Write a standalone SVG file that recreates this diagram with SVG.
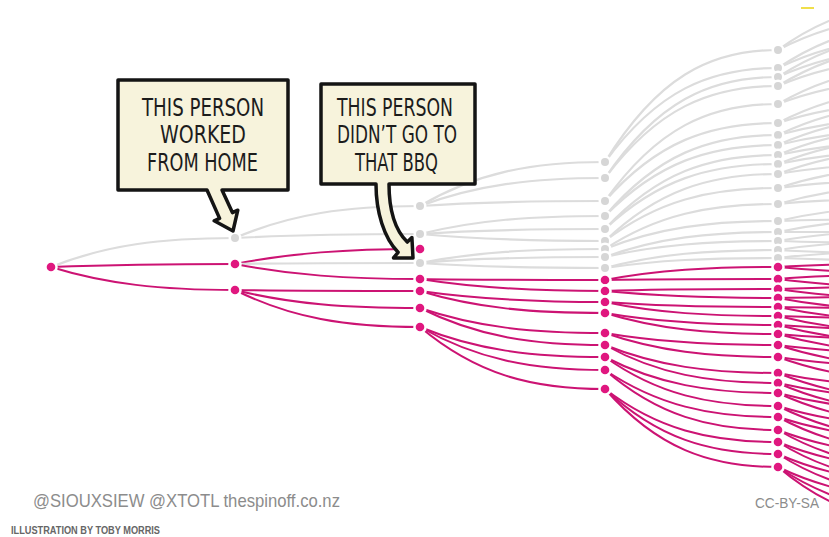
<svg xmlns="http://www.w3.org/2000/svg" width="829" height="537" viewBox="0 0 829 537">
<style>
.g{fill:none;stroke:#dcdcdc;stroke-width:2.2;stroke-linecap:round}
.p{fill:none;stroke:#cc1373;stroke-width:2;stroke-linecap:round}
.dg{fill:#d6d6d6;stroke:#ffffff;stroke-width:5;paint-order:stroke}
.dp{fill:#e0177f;stroke:#ffffff;stroke-width:5;paint-order:stroke}
.box{fill:#f7f3dc;stroke:#141414;stroke-width:3.5;stroke-linejoin:round}
.bt{font-family:"DejaVu Sans","Liberation Sans",sans-serif;font-size:24px;fill:#1c1c1c;text-anchor:middle}
.credit{font-family:"Liberation Sans",Arial,sans-serif;fill:#8c8c8c}
</style>
<rect width="829" height="537" fill="#ffffff"/>
<g id="footer">
<text class="credit" x="33" y="507" font-size="19" textLength="307" lengthAdjust="spacingAndGlyphs">@SIOUXSIEW @XTOTL thespinoff.co.nz</text>
<text x="11" y="534" font-family="Liberation Sans, Arial, sans-serif" font-size="10" font-weight="bold" fill="#666666" textLength="149" lengthAdjust="spacingAndGlyphs">ILLUSTRATION BY TOBY MORRIS</text>
<text class="credit" x="755" y="508" font-size="15" fill="#9a9a9a" textLength="64" lengthAdjust="spacingAndGlyphs">CC-BY-SA</text>
<line x1="801" y1="8" x2="814" y2="8" stroke="#f0df4a" stroke-width="2"/>
</g>
<g id="connectors">
<path class="g" d="M51,267C106,245 161,238 235,238"/>
<path class="p" d="M51,267C106,265 161,264 235,264"/>
<path class="p" d="M51,267C106,284 161,290 235,290"/>

<path class="g" d="M235,238C291,214 346,206 420,206"/>
<path class="g" d="M235,238C291,235 346,234 420,234"/>
<path class="p" d="M235,264C291,253 346,249 420,249"/>
<path class="g" d="M235,264C291,263 346,263 420,263"/>
<path class="p" d="M235,264C291,275 346,279 420,279"/>
<path class="p" d="M235,290C291,291 346,291 420,291"/>
<path class="p" d="M235,290C291,304 346,308 420,308"/>
<path class="p" d="M235,290C291,318 346,327 420,327"/>

<path class="g" d="M420,206C476,173 531,162 605,162"/>
<path class="g" d="M420,206C476,185 531,178 605,178"/>
<path class="g" d="M420,206C476,202 531,201 605,201"/>
<path class="g" d="M420,234C476,220 531,216 605,216"/>
<path class="g" d="M420,234C476,230 531,229 605,229"/>
<path class="g" d="M420,234C476,239 531,241 605,241"/>
<path class="g" d="M420,263C476,252 531,249 605,249"/>
<path class="g" d="M420,263C476,258 531,257 605,257"/>
<path class="g" d="M420,263C476,267 531,268 605,268"/>
<path class="p" d="M420,279C476,280 531,280 605,280"/>
<path class="p" d="M420,279C476,288 531,291 605,291"/>
<path class="p" d="M420,291C476,299 531,302 605,302"/>
<path class="p" d="M420,291C476,308 531,313 605,313"/>
<path class="p" d="M420,308C476,327 531,333 605,333"/>
<path class="p" d="M420,308C476,336 531,345 605,345"/>
<path class="p" d="M420,327C476,350 531,357 605,357"/>
<path class="p" d="M420,327C476,359 531,370 605,370"/>
<path class="p" d="M420,327C476,374 531,389 605,389"/>

<path class="g" d="M605,162C657,78 709,50 778,50"/>
<path class="g" d="M605,162C657,91 709,68 778,68"/>
<path class="g" d="M605,178C657,102 709,77 778,77"/>
<path class="g" d="M605,178C657,109 709,86 778,86"/>
<path class="g" d="M605,201C657,128 709,104 778,104"/>
<path class="g" d="M605,201C657,142 709,123 778,123"/>
<path class="g" d="M605,216C657,155 709,135 778,135"/>
<path class="g" d="M605,216C657,163 709,145 778,145"/>
<path class="g" d="M605,229C657,173 709,155 778,155"/>
<path class="g" d="M605,229C657,180 709,164 778,164"/>
<path class="g" d="M605,241C657,191 709,174 778,174"/>
<path class="g" d="M605,241C657,201 709,188 778,188"/>
<path class="g" d="M605,249C657,215 709,204 778,204"/>
<path class="g" d="M605,249C657,228 709,221 778,221"/>
<path class="g" d="M605,257C657,238 709,232 778,232"/>
<path class="g" d="M605,257C657,245 709,241 778,241"/>
<path class="g" d="M605,268C657,254 709,250 778,250"/>
<path class="g" d="M605,268C657,260 709,258 778,258"/>
<path class="p" d="M605,280C657,270 709,267 778,267"/>
<path class="p" d="M605,280C657,279 709,279 778,279"/>
<path class="p" d="M605,291C657,289 709,289 778,289"/>
<path class="p" d="M605,291C657,296 709,298 778,298"/>
<path class="p" d="M605,302C657,306 709,307 778,307"/>
<path class="p" d="M605,302C657,313 709,316 778,316"/>
<path class="p" d="M605,313C657,322 709,325 778,325"/>
<path class="p" d="M605,313C657,329 709,334 778,334"/>
<path class="p" d="M605,333C657,342 709,345 778,345"/>
<path class="p" d="M605,333C657,351 709,357 778,357"/>
<path class="p" d="M605,345C657,366 709,373 778,373"/>
<path class="p" d="M605,345C657,374 709,383 778,383"/>
<path class="p" d="M605,357C657,384 709,393 778,393"/>
<path class="p" d="M605,357C657,394 709,406 778,406"/>
<path class="p" d="M605,370C657,405 709,417 778,417"/>
<path class="p" d="M605,370C657,415 709,430 778,430"/>
<path class="p" d="M605,389C657,429 709,442 778,442"/>
<path class="p" d="M605,389C657,438 709,454 778,454"/>
<path class="p" d="M605,389C657,448 709,467 778,467"/>

<path class="g" d="M778,50C830,12 882,0 951,0"/>
<path class="g" d="M778,50C830,23 882,14 951,14"/>
<path class="g" d="M778,68C830,33 882,21 951,21"/>
<path class="g" d="M778,68C830,43 882,35 951,35"/>
<path class="g" d="M778,77C830,43 882,32 951,32"/>
<path class="g" d="M778,77C830,54 882,46 951,46"/>
<path class="g" d="M778,86C830,54 882,43 951,43"/>
<path class="g" d="M778,86C830,64 882,57 951,57"/>
<path class="g" d="M778,104C830,74 882,64 951,64"/>
<path class="g" d="M778,104C830,84 882,78 951,78"/>
<path class="g" d="M778,123C830,96 882,87 951,87"/>
<path class="g" d="M778,123C830,106 882,101 951,101"/>
<path class="g" d="M778,135C830,110 882,102 951,102"/>
<path class="g" d="M778,135C830,121 882,116 951,116"/>
<path class="g" d="M778,145C830,122 882,114 951,114"/>
<path class="g" d="M778,145C830,132 882,128 951,128"/>
<path class="g" d="M778,155C830,133 882,126 951,126"/>
<path class="g" d="M778,155C830,144 882,140 951,140"/>
<path class="g" d="M778,164C830,143 882,136 951,136"/>
<path class="g" d="M778,164C830,153 882,150 951,150"/>
<path class="g" d="M778,174C830,154 882,148 951,148"/>
<path class="g" d="M778,174C830,165 882,162 951,162"/>
<path class="g" d="M778,188C830,171 882,165 951,165"/>
<path class="g" d="M778,188C830,181 882,179 951,179"/>
<path class="g" d="M778,204C830,189 882,184 951,184"/>
<path class="g" d="M778,204C830,199 882,198 951,198"/>
<path class="g" d="M778,221C830,209 882,205 951,205"/>
<path class="g" d="M778,221C830,219 882,219 951,219"/>
<path class="g" d="M778,232C830,221 882,218 951,218"/>
<path class="g" d="M778,232C830,232 882,232 951,232"/>
<path class="g" d="M778,241C830,232 882,229 951,229"/>
<path class="g" d="M778,241C830,243 882,243 951,243"/>
<path class="g" d="M778,250C830,242 882,240 951,240"/>
<path class="g" d="M778,250C830,253 882,254 951,254"/>
<path class="g" d="M778,258C830,252 882,250 951,250"/>
<path class="g" d="M778,258C830,260 882,261 951,261"/>
<path class="p" d="M778,267C830,264 882,263 951,263"/>
<path class="p" d="M778,267C830,272 882,274 951,274"/>
<path class="p" d="M778,279C830,275 882,274 951,274"/>
<path class="p" d="M778,279C830,286 882,288 951,288"/>
<path class="p" d="M778,289C830,287 882,286 951,286"/>
<path class="p" d="M778,289C830,297 882,300 951,300"/>
<path class="p" d="M778,298C830,297 882,297 951,297"/>
<path class="p" d="M778,298C830,308 882,311 951,311"/>
<path class="p" d="M778,307C830,308 882,308 951,308"/>
<path class="p" d="M778,307C830,318 882,322 951,322"/>
<path class="p" d="M778,316C830,318 882,319 951,319"/>
<path class="p" d="M778,316C830,329 882,333 951,333"/>
<path class="p" d="M778,325C830,329 882,330 951,330"/>
<path class="p" d="M778,325C830,339 882,344 951,344"/>
<path class="p" d="M778,334C830,339 882,340 951,340"/>
<path class="p" d="M778,334C830,349 882,354 951,354"/>
<path class="p" d="M778,345C830,352 882,354 951,354"/>
<path class="p" d="M778,345C830,362 882,368 951,368"/>
<path class="p" d="M778,357C830,365 882,368 951,368"/>
<path class="p" d="M778,357C830,376 882,382 951,382"/>
<path class="p" d="M778,373C830,384 882,387 951,387"/>
<path class="p" d="M778,373C830,394 882,401 951,401"/>
<path class="p" d="M778,383C830,395 882,399 951,399"/>
<path class="p" d="M778,383C830,406 882,413 951,413"/>
<path class="p" d="M778,393C830,407 882,411 951,411"/>
<path class="p" d="M778,393C830,417 882,425 951,425"/>
<path class="p" d="M778,406C830,422 882,427 951,427"/>
<path class="p" d="M778,406C830,432 882,441 951,441"/>
<path class="p" d="M778,417C830,434 882,440 951,440"/>
<path class="p" d="M778,417C830,445 882,454 951,454"/>
<path class="p" d="M778,430C830,450 882,456 951,456"/>
<path class="p" d="M778,430C830,460 882,470 951,470"/>
<path class="p" d="M778,442C830,463 882,470 951,470"/>
<path class="p" d="M778,442C830,474 882,484 951,484"/>
<path class="p" d="M778,454C830,477 882,484 951,484"/>
<path class="p" d="M778,454C830,487 882,498 951,498"/>
<path class="p" d="M778,467C830,492 882,500 951,500"/>
<path class="p" d="M778,467C830,502 882,514 951,514"/>
<path class="p" d="M778,467C830,511 882,526 951,526"/>
</g>
<g id="nodes">
<g id="n-root"><circle class="dp" cx="51" cy="267" r="4.3"/></g>
<g id="n1-238"><circle class="dg" cx="235" cy="238" r="4"/></g>
<g id="n1-264"><circle class="dp" cx="235" cy="264" r="4.3"/></g>
<g id="n1-290"><circle class="dp" cx="235" cy="290" r="4.3"/></g>
<g id="n2-206"><circle class="dg" cx="420" cy="206" r="4"/></g>
<g id="n2-234"><circle class="dg" cx="420" cy="234" r="4"/></g>
<g id="n2-249"><circle class="dp" cx="420" cy="249" r="4.3"/></g>
<g id="n2-263"><circle class="dg" cx="420" cy="263" r="4"/></g>
<g id="n2-279"><circle class="dp" cx="420" cy="279" r="4.3"/></g>
<g id="n2-291"><circle class="dp" cx="420" cy="291" r="4.3"/></g>
<g id="n2-308"><circle class="dp" cx="420" cy="308" r="4.3"/></g>
<g id="n2-327"><circle class="dp" cx="420" cy="327" r="4.3"/></g>
<g id="n3-162"><circle class="dg" cx="605" cy="162" r="4"/></g>
<g id="n3-178"><circle class="dg" cx="605" cy="178" r="4"/></g>
<g id="n3-201"><circle class="dg" cx="605" cy="201" r="4"/></g>
<g id="n3-216"><circle class="dg" cx="605" cy="216" r="4"/></g>
<g id="n3-229"><circle class="dg" cx="605" cy="229" r="4"/></g>
<g id="n3-241"><circle class="dg" cx="605" cy="241" r="4"/></g>
<g id="n3-249"><circle class="dg" cx="605" cy="249" r="4"/></g>
<g id="n3-257"><circle class="dg" cx="605" cy="257" r="4"/></g>
<g id="n3-268"><circle class="dg" cx="605" cy="268" r="4"/></g>
<g id="n3-280"><circle class="dp" cx="605" cy="280" r="4.3"/></g>
<g id="n3-291"><circle class="dp" cx="605" cy="291" r="4.3"/></g>
<g id="n3-302"><circle class="dp" cx="605" cy="302" r="4.3"/></g>
<g id="n3-313"><circle class="dp" cx="605" cy="313" r="4.3"/></g>
<g id="n3-333"><circle class="dp" cx="605" cy="333" r="4.3"/></g>
<g id="n3-345"><circle class="dp" cx="605" cy="345" r="4.3"/></g>
<g id="n3-357"><circle class="dp" cx="605" cy="357" r="4.3"/></g>
<g id="n3-370"><circle class="dp" cx="605" cy="370" r="4.3"/></g>
<g id="n3-389"><circle class="dp" cx="605" cy="389" r="4.3"/></g>
<g id="n4-50"><circle class="dg" cx="778" cy="50" r="4"/></g>
<g id="n4-68"><circle class="dg" cx="778" cy="68" r="4"/></g>
<g id="n4-77"><circle class="dg" cx="778" cy="77" r="4"/></g>
<g id="n4-86"><circle class="dg" cx="778" cy="86" r="4"/></g>
<g id="n4-104"><circle class="dg" cx="778" cy="104" r="4"/></g>
<g id="n4-123"><circle class="dg" cx="778" cy="123" r="4"/></g>
<g id="n4-135"><circle class="dg" cx="778" cy="135" r="4"/></g>
<g id="n4-145"><circle class="dg" cx="778" cy="145" r="4"/></g>
<g id="n4-155"><circle class="dg" cx="778" cy="155" r="4"/></g>
<g id="n4-164"><circle class="dg" cx="778" cy="164" r="4"/></g>
<g id="n4-174"><circle class="dg" cx="778" cy="174" r="4"/></g>
<g id="n4-188"><circle class="dg" cx="778" cy="188" r="4"/></g>
<g id="n4-204"><circle class="dg" cx="778" cy="204" r="4"/></g>
<g id="n4-221"><circle class="dg" cx="778" cy="221" r="4"/></g>
<g id="n4-232"><circle class="dg" cx="778" cy="232" r="4"/></g>
<g id="n4-241"><circle class="dg" cx="778" cy="241" r="4"/></g>
<g id="n4-250"><circle class="dg" cx="778" cy="250" r="4"/></g>
<g id="n4-258"><circle class="dg" cx="778" cy="258" r="4"/></g>
<g id="n4-267"><circle class="dp" cx="778" cy="267" r="4.3"/></g>
<g id="n4-279"><circle class="dp" cx="778" cy="279" r="4.3"/></g>
<g id="n4-289"><circle class="dp" cx="778" cy="289" r="4.3"/></g>
<g id="n4-298"><circle class="dp" cx="778" cy="298" r="4.3"/></g>
<g id="n4-307"><circle class="dp" cx="778" cy="307" r="4.3"/></g>
<g id="n4-316"><circle class="dp" cx="778" cy="316" r="4.3"/></g>
<g id="n4-325"><circle class="dp" cx="778" cy="325" r="4.3"/></g>
<g id="n4-334"><circle class="dp" cx="778" cy="334" r="4.3"/></g>
<g id="n4-345"><circle class="dp" cx="778" cy="345" r="4.3"/></g>
<g id="n4-357"><circle class="dp" cx="778" cy="357" r="4.3"/></g>
<g id="n4-373"><circle class="dp" cx="778" cy="373" r="4.3"/></g>
<g id="n4-383"><circle class="dp" cx="778" cy="383" r="4.3"/></g>
<g id="n4-393"><circle class="dp" cx="778" cy="393" r="4.3"/></g>
<g id="n4-406"><circle class="dp" cx="778" cy="406" r="4.3"/></g>
<g id="n4-417"><circle class="dp" cx="778" cy="417" r="4.3"/></g>
<g id="n4-430"><circle class="dp" cx="778" cy="430" r="4.3"/></g>
<g id="n4-442"><circle class="dp" cx="778" cy="442" r="4.3"/></g>
<g id="n4-454"><circle class="dp" cx="778" cy="454" r="4.3"/></g>
<g id="n4-467"><circle class="dp" cx="778" cy="467" r="4.3"/></g>
</g>
<g id="callout-wfh">
<path class="box" d="M118,80L288,80L288,190L222,190L232.4,212.6L237.8,210.2L233,231L214.2,220.8L219.6,218.4L207,190L118,190Z"/>
<text class="bt" x="203" y="116" textLength="122" lengthAdjust="spacingAndGlyphs">THIS PERSON</text>
<text class="bt" x="203" y="143" textLength="86" lengthAdjust="spacingAndGlyphs">WORKED</text>
<text class="bt" x="202.5" y="171" textLength="111" lengthAdjust="spacingAndGlyphs">FROM HOME</text>
</g>
<g id="callout-bbq">
<path class="box" d="M321,84L475,84L475,184L389,184C389,212 395,230 407.3,242.1L411.9,237.5L413,258L393.5,257.9L398.1,252.3C384,238 376,212 376,184L321,184Z"/>
<text class="bt" x="395" y="116" textLength="116" lengthAdjust="spacingAndGlyphs">THIS PERSON</text>
<text class="bt" x="397" y="143" textLength="120" lengthAdjust="spacingAndGlyphs">DIDN’T GO TO</text>
<text class="bt" x="396.5" y="171" textLength="83" lengthAdjust="spacingAndGlyphs">THAT BBQ</text>
</g>
</svg>
